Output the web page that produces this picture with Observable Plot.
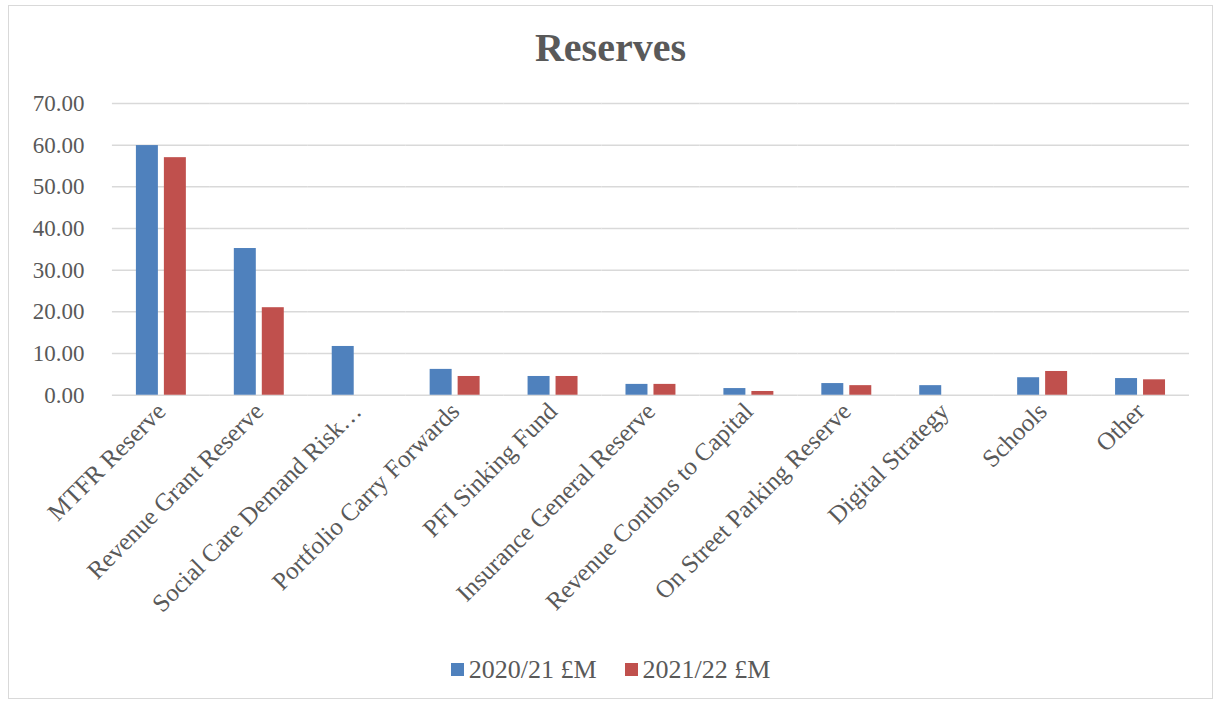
<!DOCTYPE html>
<html>
<head>
<meta charset="utf-8">
<script src="https://cdn.jsdelivr.net/npm/d3@7"></script>
<script src="https://cdn.jsdelivr.net/npm/@observablehq/plot@0.6"></script>
<style>
  html, body { margin: 0; padding: 0; background: #fff; }
  #frame { position: absolute; left: 8px; top: 5px; width: 1205px; height: 694px; border: 1px solid #d9d9d9; box-sizing: border-box; font-family: "Liberation Serif", "DejaVu Serif", serif; color: #595959; }
  #title { position: absolute; left: 0; width: 100%; top: 18px; text-align: center; font-size: 40px; font-weight: bold; color: #595959; line-height: 1.2; }
  #chart { position: absolute; left: 0; top: 74px; }
  #legend { position: absolute; left: 0; width: 100%; top: 646px; text-align: center; font-size: 26px; color: #595959; line-height: 1.2; }
  .item { display: inline-flex; align-items: center; margin: 0 14px; }
  .sw { width: 13px; height: 13px; display: inline-block; margin-right: 5px; }
</style>
</head>
<body>
<div id="frame">
  <div id="title">Reserves</div>
  <div id="chart"></div>
  <div id="legend"></div>
</div>
<script>
const categories = ["MTFR Reserve", "Revenue Grant Reserve", "Social Care Demand Risk…", "Portfolio Carry Forwards", "PFI Sinking Fund", "Insurance General Reserve", "Revenue Contbns to Capital", "On Street Parking Reserve", "Digital Strategy", "Schools", "Other"];
const seriesNames = ["2020/21 £M", "2021/22 £M"];
const values2021 = [59.9, 35.2, 11.7, 6.2, 4.5, 2.6, 1.6, 2.8, 2.3, 4.2, 4.0];
const values2122 = [57.0, 21.0, 0, 4.5, 4.5, 2.6, 0.9, 2.3, 0, 5.7, 3.7];
const yTicks = [0, 10, 20, 30, 40, 50, 60, 70];
const colors = ["#4F81BD", "#C0504D"];

const data = [];
categories.forEach((c, i) => {
  data.push({category: c, series: seriesNames[0], value: values2021[i]});
  data.push({category: c, series: seriesNames[1], value: values2122[i]});
});

const chart = Plot.plot({
  width: 1204,
  height: 570,
  marginLeft: 99,
  marginRight: 20,
  marginTop: 23,
  marginBottom: 255,
  style: {fontFamily: "'Liberation Serif', 'DejaVu Serif', serif", fontSize: "22px", color: "#595959", background: "transparent", overflow: "visible"},
  fx: {domain: categories, padding: 0, label: null},
  x: {domain: seriesNames, paddingInner: 0.21, paddingOuter: 0.8, axis: null},
  y: {domain: [0, 70], label: null},
  color: {domain: seriesNames, range: colors},
  marks: [
    Plot.gridY(yTicks, {stroke: "#d9d9d9", strokeOpacity: 1, strokeWidth: 1.5}),
    Plot.barY(data, {fx: "category", x: "series", y: "value", fill: "series"}),
    Plot.axisY(yTicks, {tickSize: 0, tickPadding: 28, fontSize: 23, tickFormat: d => d.toFixed(2), label: null, fill: "#595959"}),
    Plot.axisFx({anchor: "bottom", tickRotate: -45, tickSize: 0, tickPadding: 12, fontSize: 25, label: null, fill: "#595959"})
  ]
});
document.getElementById("chart").appendChild(chart);

const legend = document.getElementById("legend");
seriesNames.forEach((s, i) => {
  const item = document.createElement("span");
  item.className = "item";
  const sw = document.createElement("span");
  sw.className = "sw";
  sw.style.background = colors[i];
  item.appendChild(sw);
  item.appendChild(document.createTextNode(s));
  legend.appendChild(item);
});
</script>
</body>
</html>
